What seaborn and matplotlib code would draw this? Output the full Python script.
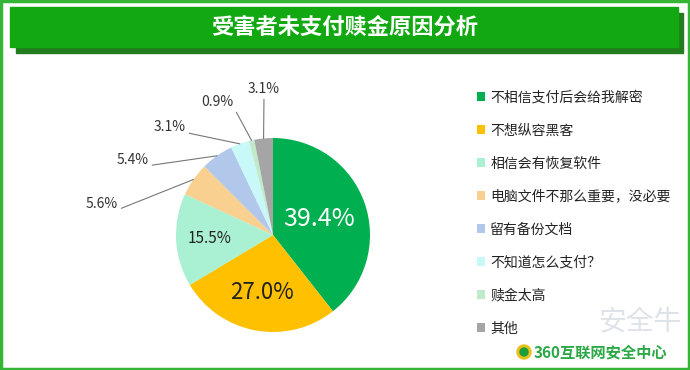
import numpy as np
import matplotlib
matplotlib.use("Agg")
import matplotlib.pyplot as plt
import seaborn as sns
from matplotlib.patches import Rectangle, Circle

# data
reasons = ["不相信支付后会给我解密", "不想纵容黑客", "相信会有恢复软件",
           "电脑文件不那么重要，没必要", "留有备份文档", "不知道怎么支付？",
           "赎金太高", "其他"]
shares = [39.4, 27.0, 15.5, 5.6, 5.4, 3.1, 0.9, 3.1]
pct_labels = ["39.4%", "27.0%", "15.5%", "5.6%", "5.4%", "3.1%", "0.9%", "3.1%"]
colors = ["#00B050", "#FFC000", "#A9F1D2", "#F9D08F", "#B1C8EA",
          "#C9F8F8", "#BFEBCB", "#A5A5A5"]

title = "受害者未支付赎金原因分析"

sns.set_theme(style="white")
plt.rcParams['font.family'] = ['Noto Sans CJK SC', 'DejaVu Sans']

W, H = 690, 370
fig = plt.figure(figsize=(W / 100, H / 100), dpi=100)
ax = fig.add_axes([0, 0, 1, 1])
ax.set_xlim(0, W)
ax.set_ylim(0, H)
ax.set_aspect('equal')
ax.axis('off')

def py(y):
    # pixel row from top -> data y
    return H - y

# outer frame
ax.add_patch(Rectangle((1, 1), W - 2, H - 2, fill=False, ec="#35B535", lw=2.5))

# title banner with shadow
ax.add_patch(Rectangle((16, py(53)), 667, 40, color="#237D1E", zorder=1))
ax.add_patch(Rectangle((10, py(47)), 668, 40, color="#12A812", zorder=2))
ax.text(345, py(27), title, color="white", fontsize=16, fontweight="bold",
        ha="center", va="center", zorder=3)

# pie
cx, cy, r = 273, py(235), 97
wedges, _ = ax.pie(shares, colors=colors, startangle=90, counterclock=False,
                   center=(cx, cy), radius=r, frame=True,
                   wedgeprops=dict(linewidth=0))
ax.set_xlim(0, W)
ax.set_ylim(0, H)
ax.axis('off')

def rim(w, f=1.0):
    a = np.deg2rad((w.theta1 + w.theta2) / 2)
    return cx + r * f * np.cos(a), cy + r * f * np.sin(a)

# labels inside the big slices
inside = [(0.50, 18, "white"), (0.60, 16, "#222222"), (0.65, 11, "#222222")]
for i, (f, fs, col) in enumerate(inside):
    x, y = rim(wedges[i], f)
    ax.text(x, y, pct_labels[i], fontsize=fs, color=col, ha="center", va="center")

# labels with leader lines for the small slices
outside_pos = [(102, 204), (133, 160), (170, 127), (217, 102), (264, 89)]
relpos = [(1, 0.1), (1, 0.1), (1, 0.1), (1, 0.2), (0.5, 0)]
for k, i in enumerate(range(3, 8)):
    tx, ty = outside_pos[k]
    ax.annotate(pct_labels[i], xy=rim(wedges[i]), xytext=(tx, py(ty)),
                fontsize=10, color="#333333", ha="center", va="center",
                arrowprops=dict(arrowstyle="-", color="#777777", lw=0.8,
                                shrinkA=0, shrinkB=0, relpos=relpos[k]))

# legend
leg = ax.legend(wedges, reasons, loc="upper left",
                bbox_to_anchor=(464, py(78)), bbox_transform=ax.transData,
                frameon=False, fontsize=10, labelspacing=1.37,
                handlelength=0.6, handleheight=0.6, handletextpad=0.4)
for t in leg.get_texts():
    t.set_color("#222222")

# watermarks
ax.text(640, py(322), "安全牛", fontsize=20, color="#D6DCE4", ha="center",
        va="center", alpha=0.8)
ax.add_patch(Circle((524, py(352)), 7, color="#E8C21A", zorder=4))
ax.add_patch(Circle((524, py(352)), 4, color="#1E9E3A", zorder=5))
ax.text(534, py(352), "360互联网安全中心", fontsize=11, fontweight="bold",
        color="#2AA845", ha="left", va="center")

fig.savefig("out.png", dpi=100)
